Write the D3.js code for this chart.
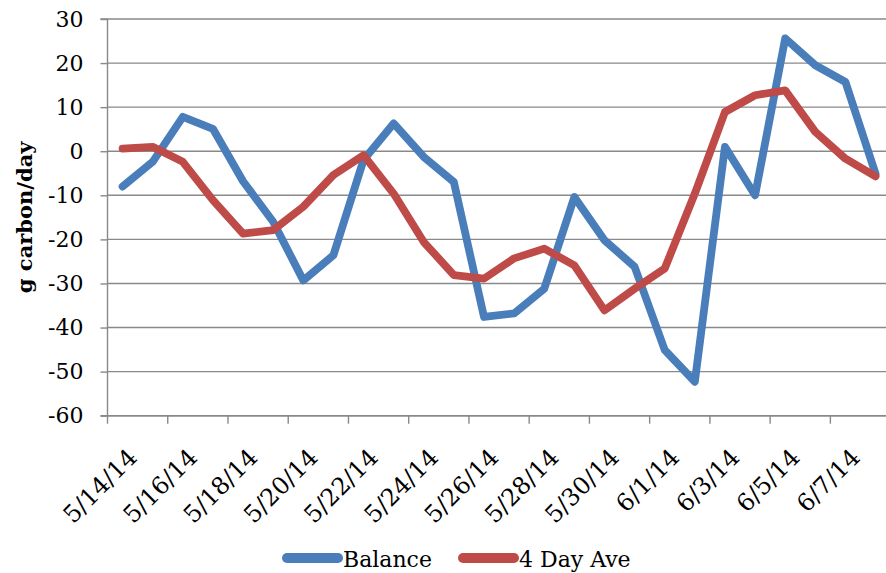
<!DOCTYPE html>
<html><head><meta charset="utf-8">
<script src="https://cdn.jsdelivr.net/npm/d3@7/dist/d3.min.js"></script>
<style>
html,body{margin:0;padding:0;background:#fff;}
svg{display:block;}
text{font-family:"DejaVu Serif",serif;fill:#000;}
</style></head>
<body>
<svg id="chart" width="886" height="573"></svg>
<script>
const categories = ["5/14/14","5/15/14","5/16/14","5/17/14","5/18/14","5/19/14","5/20/14","5/21/14","5/22/14","5/23/14","5/24/14","5/25/14","5/26/14","5/27/14","5/28/14","5/29/14","5/30/14","5/31/14","6/1/14","6/2/14","6/3/14","6/4/14","6/5/14","6/6/14","6/7/14","6/8/14"];
const balance = [-8,-2.4,7.8,5.1,-6.8,-16,-29.3,-23.6,-2,6.3,-1.3,-7,-37.6,-36.8,-31.2,-10.4,-20.2,-26.2,-45.1,-52.3,1,-10,25.6,19.5,15.7,-5.1];
const dayAve = [0.6,1,-2.4,-11.1,-18.7,-17.9,-12.6,-5.4,-0.9,-9.6,-20.6,-28.1,-28.9,-24.3,-22.1,-25.9,-36.1,-31.2,-26.6,-9.6,8.9,12.7,13.8,4.4,-1.7,-5.7];
const yTicks = [-60,-50,-40,-30,-20,-10,0,10,20,30];
const xLabelCats = categories.filter((d,i)=>i%2===0);
const seriesNames = ["Balance","4 Day Ave"];
const colors = ["#4A7EBB","#BE4B48"];

const svg = d3.select("#chart");
const pLeft = 107.5, pTop = 19, pBottom = 415.7, bw = 30.12;
const x = d3.scaleBand().domain(categories).range([pLeft, pLeft + bw*categories.length]).paddingInner(0).paddingOuter(0);
const y = d3.scaleLinear().domain([-60,30]).range([pBottom, pTop]);
const grid = "#898989";

// gridlines
svg.append("g").selectAll("line").data(yTicks).join("line")
  .attr("x1", pLeft).attr("x2", 886)
  .attr("y1", d=>y(d)).attr("y2", d=>y(d))
  .attr("stroke", grid).attr("stroke-width", 1.4);

// y axis
const ya = svg.append("g").attr("transform",`translate(${pLeft},0)`)
  .call(d3.axisLeft(y).tickValues(yTicks).tickSize(7).tickPadding(17).tickFormat(d=>String(d)));
ya.select(".domain").attr("stroke", grid).attr("stroke-width",1.4).attr("d",`M-7,${pTop}H0V${pBottom}H-7`);
ya.selectAll(".tick line").attr("stroke", grid).attr("stroke-width",1.4);
ya.selectAll(".tick text").style("font-family","DejaVu Serif").style("font-size","22px").attr("fill","#000");

// x axis line and ticks
svg.append("line").attr("x1",pLeft).attr("x2",886).attr("y1",pBottom).attr("y2",pBottom)
  .attr("stroke",grid).attr("stroke-width",1.4);
svg.append("g").selectAll("line").data(xLabelCats).join("line")
  .attr("x1",d=>x(d)).attr("x2",d=>x(d)).attr("y1",pBottom).attr("y2",pBottom+8)
  .attr("stroke",grid).attr("stroke-width",1.4);
svg.append("g").selectAll("text").data(xLabelCats).join("text")
  .attr("transform",d=>`translate(${x(d)+x.bandwidth()/2+16},${459}) rotate(-45)`)
  .attr("text-anchor","end").style("font-size","24px").text(d=>d);

// y title
svg.append("text").attr("transform",`translate(32,${(pTop+pBottom)/2}) rotate(-90)`)
  .attr("text-anchor","middle").style("font-size","21px").style("font-weight","bold").text("g carbon/day");

// lines
const line = d3.line().x((d,i)=>x(categories[i])+x.bandwidth()/2).y(d=>y(d));
[balance, dayAve].forEach((s,k)=>{
  svg.append("path").datum(s).attr("d",line).attr("fill","none")
    .attr("stroke",colors[k]).attr("stroke-width",7.8)
    .attr("stroke-linejoin","round").attr("stroke-linecap","round");
});

// legend
const legX = [287, 463];
seriesNames.forEach((n,k)=>{
  svg.append("line").attr("x1",legX[k]).attr("x2",legX[k]+51).attr("y1",558).attr("y2",558)
    .attr("stroke",colors[k]).attr("stroke-width",10).attr("stroke-linecap","round");
  svg.append("text").attr("x",legX[k]+56).attr("y",567).style("font-size","22px").text(n);
});
</script>
</body></html>
